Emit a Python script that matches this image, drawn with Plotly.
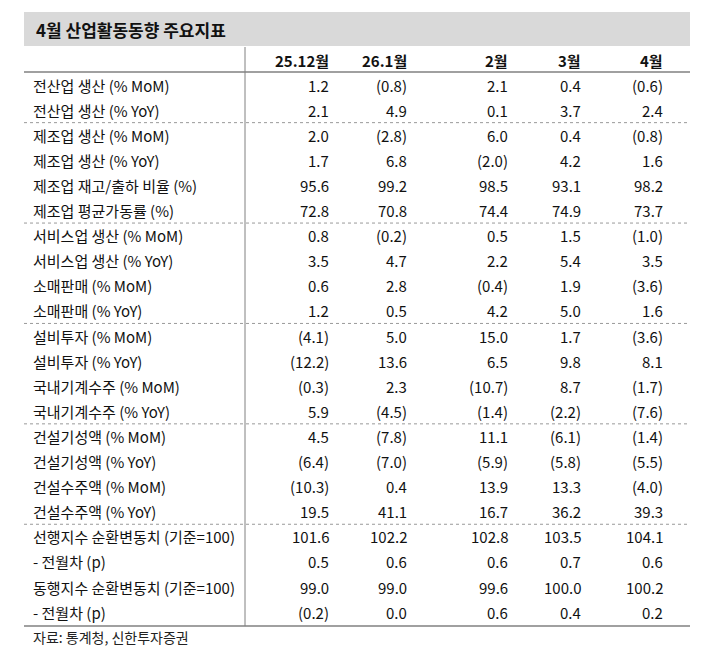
import plotly.graph_objects as go

title = "4월 산업활동동향 주요지표"
columns = ["25.12월", "26.1월", "2월", "3월", "4월"]
labels = [
    "전산업 생산 (% MoM)", "전산업 생산 (% YoY)",
    "제조업 생산 (% MoM)", "제조업 생산 (% YoY)", "제조업 재고/출하 비율 (%)", "제조업 평균가동률 (%)",
    "서비스업 생산 (% MoM)", "서비스업 생산 (% YoY)", "소매판매 (% MoM)", "소매판매 (% YoY)",
    "설비투자 (% MoM)", "설비투자 (% YoY)", "국내기계수주 (% MoM)", "국내기계수주 (% YoY)",
    "건설기성액 (% MoM)", "건설기성액 (% YoY)", "건설수주액 (% MoM)", "건설수주액 (% YoY)",
    "선행지수 순환변동치 (기준=100)", "- 전월차 (p)", "동행지수 순환변동치 (기준=100)", "- 전월차 (p)",
]
values = [
    ["1.2", "(0.8)", "2.1", "0.4", "(0.6)"],
    ["2.1", "4.9", "0.1", "3.7", "2.4"],
    ["2.0", "(2.8)", "6.0", "0.4", "(0.8)"],
    ["1.7", "6.8", "(2.0)", "4.2", "1.6"],
    ["95.6", "99.2", "98.5", "93.1", "98.2"],
    ["72.8", "70.8", "74.4", "74.9", "73.7"],
    ["0.8", "(0.2)", "0.5", "1.5", "(1.0)"],
    ["3.5", "4.7", "2.2", "5.4", "3.5"],
    ["0.6", "2.8", "(0.4)", "1.9", "(3.6)"],
    ["1.2", "0.5", "4.2", "5.0", "1.6"],
    ["(4.1)", "5.0", "15.0", "1.7", "(3.6)"],
    ["(12.2)", "13.6", "6.5", "9.8", "8.1"],
    ["(0.3)", "2.3", "(10.7)", "8.7", "(1.7)"],
    ["5.9", "(4.5)", "(1.4)", "(2.2)", "(7.6)"],
    ["4.5", "(7.8)", "11.1", "(6.1)", "(1.4)"],
    ["(6.4)", "(7.0)", "(5.9)", "(5.8)", "(5.5)"],
    ["(10.3)", "0.4", "13.9", "13.3", "(4.0)"],
    ["19.5", "41.1", "16.7", "36.2", "39.3"],
    ["101.6", "102.2", "102.8", "103.5", "104.1"],
    ["0.5", "0.6", "0.6", "0.7", "0.6"],
    ["99.0", "99.0", "99.6", "100.0", "100.2"],
    ["(0.2)", "0.0", "0.6", "0.4", "0.2"],
]
group_breaks = [2, 6, 10, 14, 18]
source = "자료: 통계청, 신한투자증권"

FONT = "Liberation Sans Narrow, Arial Narrow, Noto Sans CJK KR"
# page body has an 8px margin, so lay out in page pixels minus 8
dx, dy = -8, -9
col_right = [331, 409, 510, 583, 665]
row0, step = 86, 25.1
left, right, vline = 24, 690, 245

fig = go.Figure()
shapes = []
ann = []

shapes.append(dict(type="rect", x0=left, x1=right, y0=13, y1=47, fillcolor="#d9d9d9", line_width=0, layer="below"))
ann.append(dict(x=34, y=30, text="<b>" + title + "</b>", xanchor="left", font=dict(size=17, color="#111")))
for c, x in zip(columns, col_right):
    ann.append(dict(x=x, y=61, text="<b>" + c + "</b>", xanchor="right", font=dict(size=15, color="#111")))
shapes.append(dict(type="line", x0=left, x1=right, y0=73, y1=73, line=dict(color="#808080", width=1.5)))
bottom = row0 + step * (len(labels) - 1) + 14
shapes.append(dict(type="line", x0=left, x1=right, y0=bottom, y1=bottom, line=dict(color="#808080", width=1.5)))
shapes.append(dict(type="line", x0=vline, x1=vline, y0=48, y1=bottom, line=dict(color="#808080", width=1)))
for b in group_breaks:
    y = row0 + step * (b - 0.5)
    shapes.append(dict(type="line", x0=left, x1=right, y0=y, y1=y, line=dict(color="#999", width=1, dash="dot")))

for i, (lab, row) in enumerate(zip(labels, values)):
    y = row0 + step * i
    ann.append(dict(x=31, y=y, text=lab, xanchor="left", font=dict(size=15, color="#111")))
    for v, x in zip(row, col_right):
        ann.append(dict(x=x, y=y, text=v, xanchor="right", font=dict(size=15, color="#111")))
ann.append(dict(x=31, y=638, text=source, xanchor="left", font=dict(size=14, color="#222")))

for a in ann:
    a.update(showarrow=False, xref="x", yref="y", yanchor="middle")

fig.update_layout(
    width=715, height=654, margin=dict(l=0, r=0, t=0, b=0),
    paper_bgcolor="white", plot_bgcolor="white",
    xaxis=dict(range=[-dx, 715 - dx], visible=False, fixedrange=True),
    yaxis=dict(range=[654 - dy, -dy], visible=False, fixedrange=True),
    font=dict(family=FONT), shapes=shapes, annotations=ann, showlegend=False,
)
fig.write_html("out.html")
